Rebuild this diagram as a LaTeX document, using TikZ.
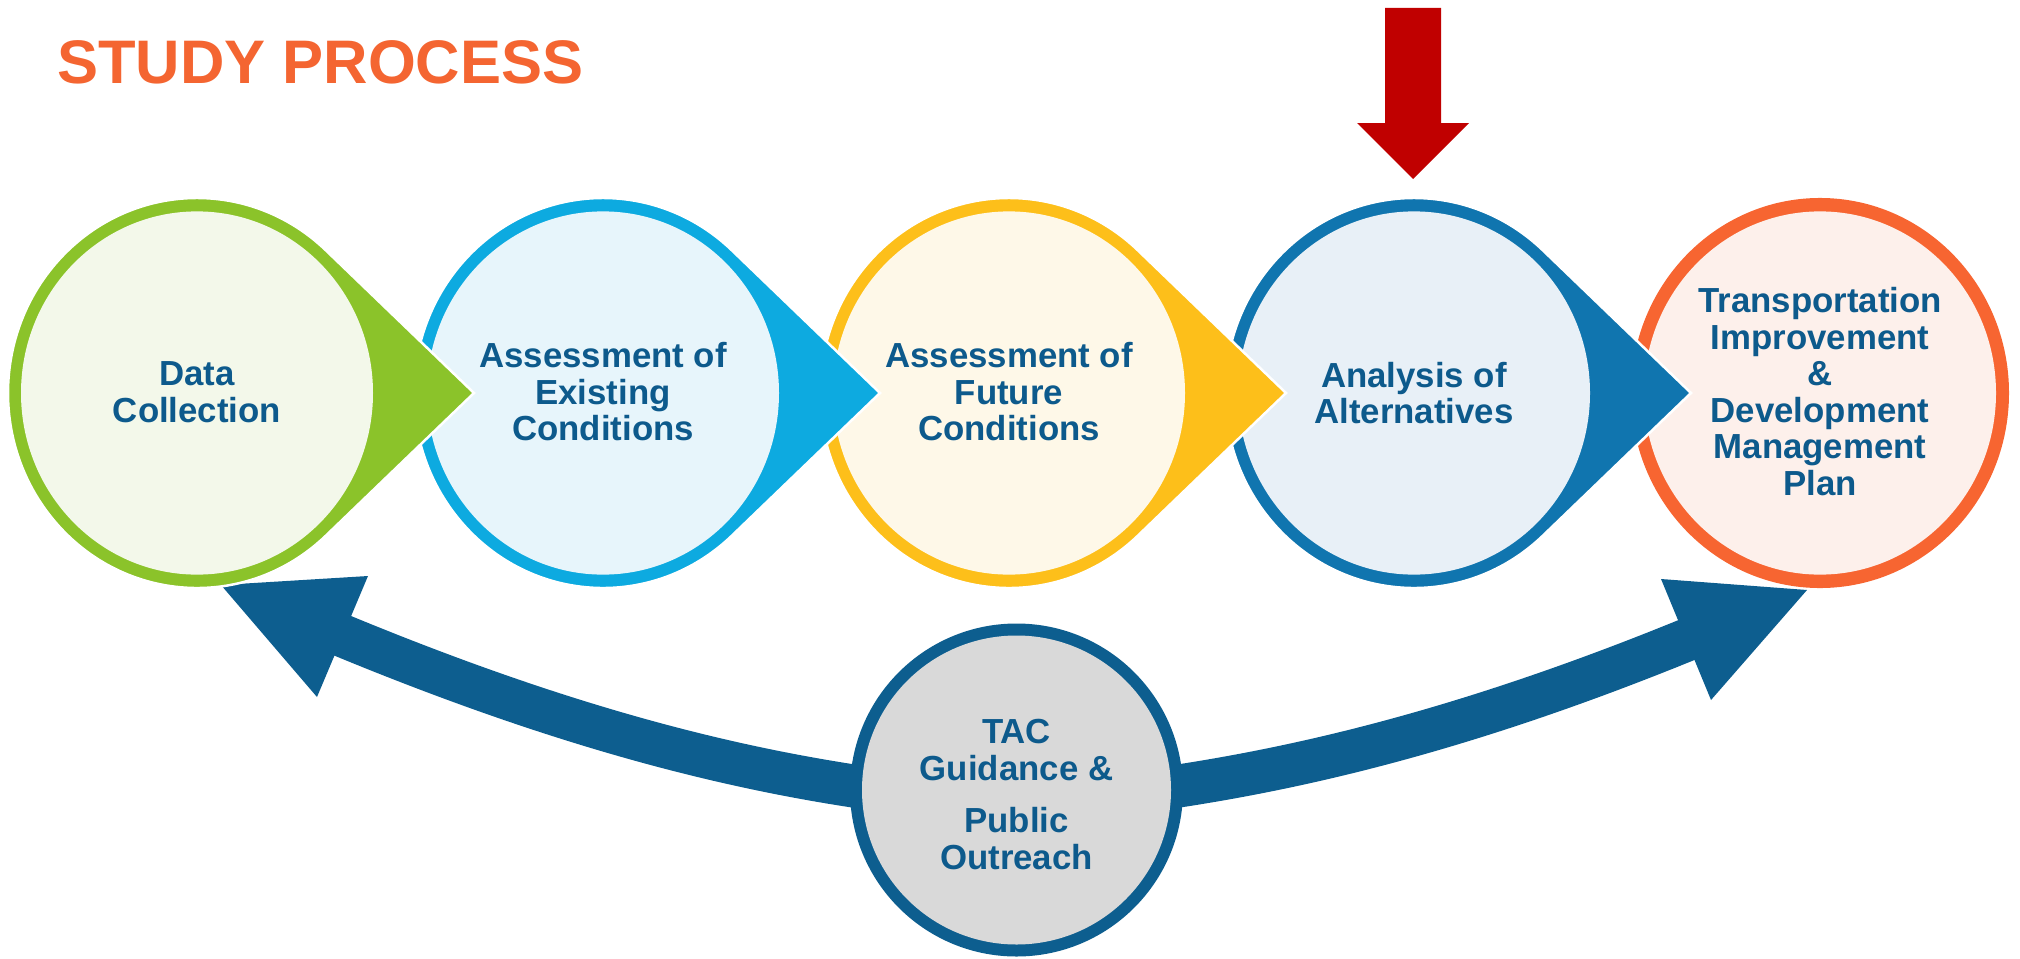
\documentclass[tikz,border=0pt]{standalone}
\usepackage{fontspec}
\setmainfont{Liberation Sans}
\definecolor{grn}{HTML}{8BC32A}
\definecolor{grnl}{HTML}{F3F8EA}
\definecolor{cyn}{HTML}{0DAAE0}
\definecolor{cynl}{HTML}{E7F5FB}
\definecolor{ylw}{HTML}{FDBF1A}
\definecolor{ylwl}{HTML}{FEF8E8}
\definecolor{blu}{HTML}{1075AF}
\definecolor{blul}{HTML}{E8F0F7}
\definecolor{org}{HTML}{F76531}
\definecolor{orgl}{HTML}{FDF0EB}
\definecolor{txt}{HTML}{0D5A8C}
\definecolor{navy}{HTML}{0D5E8F}
\definecolor{gry}{HTML}{D9D9D9}
\definecolor{redarrow}{HTML}{C00000}
\definecolor{titlecol}{HTML}{F46531}
\tikzset{
  lbl/.style={text=txt, font=\fontsize{34.8}{36.5}\selectfont\bfseries, align=center, inner sep=0pt},
  dropshape/.style={fill=#1, draw=white, line width=2.5pt},
}
\newcommand\stagedrop[3]{%
  \begin{scope}[shift={(#1,393)}, yscale=1.0319]
    \path[dropshape=#2] (277,0) -- (47.25:189) arc[start angle=47.25, end angle=312.75, radius=189] -- cycle;
    \fill[#3] (0,0) circle[radius=176];
  \end{scope}}
\newcommand\stageend[3]{%
  \begin{scope}[shift={(#1,393)}, yscale=1.0319]
    \fill[#2] (0,0) circle[radius=189];
    \fill[#3] (0,0) circle[radius=176];
  \end{scope}}
\begin{document}
\begin{tikzpicture}[x=1pt,y=-1pt]
\useasboundingbox (0,0) rectangle (2020,958);

% title
\node[anchor=base west, inner sep=0pt, text=titlecol, font=\fontsize{61.5}{70}\selectfont\bfseries] (title) at (57,83) {STUDY PROCESS};

% red arrow
\fill[redarrow] (1385,8) -- (1441,8) -- (1441,123) -- (1469,123) -- (1413,179) -- (1357,123) -- (1385,123) -- cycle;

% bottom double arrow
\coordinate (lj) at (323,627.6);
\coordinate (rj) at (1706,632);
\draw[navy, line width=43pt] (lj) .. controls (543,720) and (710,764.5) .. (860,787) -- (1172,787) .. controls (1322,764.5) and (1489,722) .. (rj);
\coordinate (ltip) at (221,585);
\coordinate (rtip) at (1807,590);
\fill[navy] (ltip) -- (368,576) -- (317,697) -- cycle;
\fill[navy] (rtip) -- (1661,579) -- (1711,700) -- cycle;

% stages, right to left
\stageend{1820}{org}{orgl}
\stagedrop{1414}{blu}{blul}
\stagedrop{1009}{ylw}{ylwl}
\stagedrop{603}{cyn}{cynl}
\stagedrop{197}{grn}{grnl}

\node[lbl] (s1) at (197,392) {Data\\Collection};
\node[lbl] (s2) at (603,392) {Assessment of\\Existing\\Conditions};
\node[lbl] (s3) at (1009,392) {Assessment of\\Future\\Conditions};
\node[lbl] (s4) at (1414,393) {Analysis of\\Alternatives};
\node[lbl] (s5) at (1820,391.5) {Transportation\\Improvement\\\&\\Development\\Management\\Plan};

% centre circle
\fill[navy] (1016.5,790) circle[radius=166.5];
\fill[gry] (1016.5,790) circle[radius=154.5];
\node[lbl] (tac) at (1016.5,794.5) {TAC\\Guidance \&\\[16pt]Public\\Outreach};
\end{tikzpicture}
\end{document}
